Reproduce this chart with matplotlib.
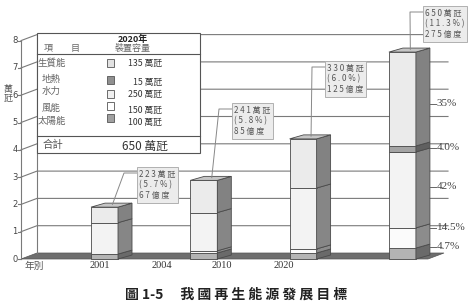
import numpy as np
import matplotlib.pyplot as plt
from matplotlib.patches import Polygon, Rectangle

plt.rcParams['font.family'] = ['Noto Sans CJK TC', 'DejaVu Sans']

years = ['2001', '2004', '2010', '2020']
cap_total = ['223', '241', '330', '650']
cap_share = ['5.7', '5.8', '6.0', '11.3']
gen_total = ['67', '85', '125', '275']

# stacked pieces of each bar, bottom to top
seg_base = [0.18, 0.22, 0.22, 0.40]
seg_thin = [0.00, 0.08, 0.15, 0.74]
seg_mid = [1.15, 1.40, 2.23, 2.78]
seg_band = [0.00, 0.00, 0.00, 0.22]
seg_top = [0.57, 1.18, 1.80, 3.44]

legend_names = ['生質能', '地熱', '水力', '風能', '太陽能']
legend_caps = [135, 15, 250, 150, 100]
total_2020 = 650
pct_labels = ['4.7%', '14.5%', '42%', '4.0%', '35%']

# ---- pixel <-> data mapping of the scanned picture
X0, SX = 104.5, 99.3
Y0, SY = 259.0, 27.3
W, H = 472, 303

def P(x, y):
    return ((x - X0) / SX, (Y0 - y) / SY)

fig = plt.figure(figsize=(W / 100, H / 100), dpi=100)
ax = fig.add_axes([0, 0, 1, 1])
ax.set_xlim(-X0 / SX, (W - X0) / SX)
ax.set_ylim((Y0 - H) / SY, Y0 / SY)
ax.axis('off')

xa = P(21, 0)[0]          # front y axis
wdx, wdy = 16 / SX, 6 / SY  # wall depth
xend = P(448, 0)[0]
xfloor = P(428, 0)[0]
gcol = '#7a7a7a'

# floor
ax.add_patch(Polygon([(xa, 0), (xfloor, 0), (xfloor + wdx, wdy), (xa + wdx, wdy)],
                     closed=True, fc='#6e6e6e', ec='#555555', lw=0.5, zorder=1))
# back wall and grid
ax.plot([xa + wdx, xa + wdx], [wdy, 8 + wdy], color=gcol, lw=0.8, zorder=1)
ax.plot([xa, xa], [0, 8], color=gcol, lw=0.8, zorder=1)
for v in range(0, 9):
    if v > 0:
        ax.plot([xa, xa + wdx, xend], [v, v + wdy, v + wdy], color=gcol, lw=0.8, zorder=1)
    ax.plot([xa - 0.03, xa], [v, v], color=gcol, lw=0.8, zorder=1)
    ax.text(xa - 0.035, v, str(v), ha='right', va='center', fontsize=6,
            color='#444444', family='DejaVu Sans')

ax.text(P(8, 0)[0], P(0, 94)[1], '萬\n瓩', ha='center', va='center', fontsize=6.5,
        color='#555555', linespacing=1.0)

# x labels (the scan has them shifted from the bars)
xl = [P(100, 0)[0], P(162, 0)[0], P(222, 0)[0], P(284, 0)[0]]
ylab = P(0, 266)[1]
for x, yr in zip(xl, years):
    ax.text(x, ylab, yr, ha='center', va='center', fontsize=7.5, color='#333333',
            family='Liberation Serif')
ax.text(P(34, 0)[0], ylab, '年別', ha='center', va='center', fontsize=7, color='#555555')

# ---- 3D stacked bars
w = 0.272
ddx, ddy = 14 / SX, 4 / SY
segs = [seg_base, seg_thin, seg_mid, seg_band, seg_top]
front_c = ['#b4b4b4', '#fbfbfb', '#f3f3f3', '#a4a4a4', '#ebebeb']
side_c = ['#6a6a6a', '#8c8c8c', '#868686', '#606060', '#828282']
edge = '#4a4a4a'
tops = []
for i in range(len(years)):
    l, r = i - w / 2, i + w / 2
    y0 = 0
    for k, s in enumerate(segs):
        h = s[i]
        if h <= 0:
            continue
        y1 = y0 + h
        ax.add_patch(Rectangle((l, y0), w, h, fc=front_c[k], ec=edge, lw=0.6, zorder=3))
        ax.add_patch(Polygon([(r, y0), (r + ddx, y0 + ddy), (r + ddx, y1 + ddy), (r, y1)],
                             closed=True, fc=side_c[k], ec=edge, lw=0.6, zorder=3))
        y0 = y1
    ax.add_patch(Polygon([(l, y0), (r, y0), (r + ddx, y0 + ddy), (l + ddx, y0 + ddy)],
                         closed=True, fc='#c6c6c6', ec=edge, lw=0.6, zorder=3))
    tops.append(y0)

# value boxes with leader lines
box_px = [(137, 185), (232, 121), (325, 79), (423, 24)]
for i, (bx, by) in enumerate(box_px):
    txt = ' '.join(cap_total[i]) + ' 萬 瓩\n( ' + ' '.join(cap_share[i]) + ' % )\n' \
          + ' '.join(gen_total[i]) + ' 億 度'
    tx, ty = P(bx + 2, by)
    ax.text(tx, ty, txt, ha='left', va='center', fontsize=5.8, color='#555555',
            linespacing=1.25, zorder=6,
            bbox=dict(boxstyle='square,pad=0.3', fc='#ececec', ec='#b0b0b0', lw=0.7))
    sx, sy = P(bx - 13, by - 12)
    ax.plot([i + 0.08, sx, P(bx, 0)[0]], [tops[i] + 0.1, sy, sy], color='#888888',
            lw=0.7, zorder=5)

# percentage labels next to the 2020 target bar
pct_y = [0.44, 1.14, 2.64, 4.07, 5.68]
xs = 3 + w / 2 + ddx
for lab, yv in zip(pct_labels, pct_y):
    ax.plot([xs, xs + 0.06], [yv, yv], color='#666666', lw=0.7, zorder=4)
    ax.text(xs + 0.07, yv, lab, ha='left', va='center', fontsize=8, color='#444444',
            family='Liberation Serif')

# ---- legend table
x1, y1 = P(37, 153)
x2, y2 = P(200, 33)
ax.add_patch(Rectangle((x1, y1), x2 - x1, y2 - y1, fc='white', ec='#555555', lw=0.8, zorder=5))
for yy in (54, 136):
    ax.plot([x1, x2], [P(0, yy)[1]] * 2, color='#555555', lw=0.8, zorder=6)

def T(x, y, s, **kw):
    ax.text(*P(x, y), s, zorder=7, **kw)

T(133, 39, '2020年', ha='center', va='center', fontsize=6.5, color='#222222', fontweight='bold')
T(133, 49, '裝置容量', ha='center', va='center', fontsize=6.5, color='#666666')
T(44, 49, '項　　目', ha='left', va='center', fontsize=6.5, color='#666666')

name_px = [(38, 63), (42, 79), (42, 91), (42, 108), (38, 121)]
sw_y = [63, 80, 94, 106, 118]
val_y = [63, 82, 94, 110, 122]
sw_c = ['#e2e2e2', '#909090', '#f0f0f0', '#ffffff', '#a0a0a0']
for k, name in enumerate(legend_names):
    T(name_px[k][0], name_px[k][1], name, ha='left', va='center', fontsize=6.8, color='#666666')
    sx0, sy0 = P(107, sw_y[k] + 4)
    ax.add_patch(Rectangle((sx0, sy0), 7 / SX, 8 / SY, fc=sw_c[k], ec='#555555', lw=0.6, zorder=7))
    T(162, val_y[k], f'{legend_caps[k]} 萬瓩', ha='right', va='center', fontsize=6.3, color='#333333')

T(43, 145, '合計', ha='left', va='center', fontsize=7.5, color='#555555')
T(168, 146, f'{total_2020} 萬瓩', ha='right', va='center', fontsize=8.5, color='#333333')

# caption (sits on the bottom edge in the scan)
fig.text(236 / W, 1 - 302 / H, '圖 1-5　 我 國 再 生 能 源 發 展 目 標', ha='center', va='bottom',
         fontsize=10, fontweight='bold', color='#222222')

fig.savefig('out.png', dpi=100)
